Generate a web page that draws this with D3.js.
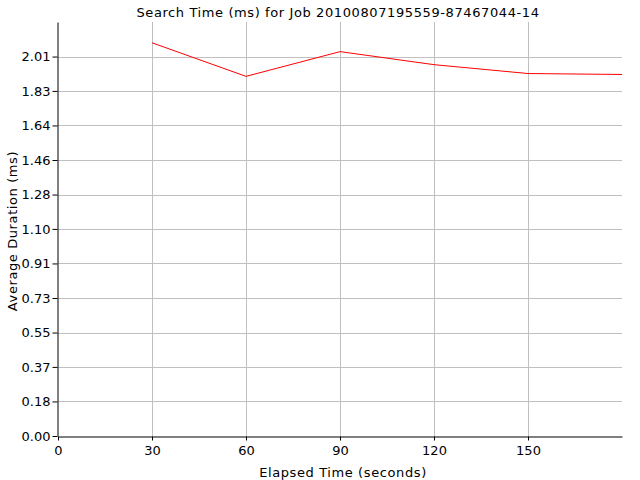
<!DOCTYPE html>
<html>
<head>
<meta charset="utf-8">
<script src="https://cdn.jsdelivr.net/npm/d3@7"></script>
<style>
	body { margin: 0; background: #fff; }
	text { font-family: "DejaVu Sans", sans-serif; font-size: 13px; fill: #000; }
	.title { letter-spacing: 0.6px; }
</style>
</head>
<body>
<script>
// elapsed seconds and average search time
var elapsed		= [30, 60, 90, 120, 150, 180],
	duration	= [2.083, 1.905, 2.036, 1.967, 1.920, 1.915],
	xTicks		= [0, 30, 60, 90, 120, 150],
	yTicks		= [0, 0.183, 0.366, 0.548, 0.731, 0.914, 1.097, 1.279, 1.462, 1.645, 1.828, 2.010],
	yLabels		= ["0.00", "0.18", "0.37", "0.55", "0.73", "0.91", "1.10", "1.28", "1.46", "1.64", "1.83", "2.01"];

var width		= 640,
	height		= 480,
	plotLeft	= 58,
	plotRight	= 622,
	plotTop		= 22,
	plotBottom	= 436;

var svg = d3.select("body")
	.append("svg")
	.attr("width", width)
	.attr("height", height);

var x = d3.scaleLinear().domain([0, 180]).range([plotLeft, plotRight]);
var y = d3.scaleLinear().domain([0, 2.193]).range([plotBottom, plotTop]);

// grid
svg.append("g")
	.selectAll("line")
	.data(yTicks.slice(1))
	.join("line")
	.attr("x1", plotLeft).attr("x2", plotRight)
	.attr("y1", function(d) { return Math.round(y(d)) + 0.5; })
	.attr("y2", function(d) { return Math.round(y(d)) + 0.5; })
	.style("stroke", "#c0c0c0");

svg.append("g")
	.selectAll("line")
	.data(xTicks.slice(1))
	.join("line")
	.attr("y1", plotTop).attr("y2", plotBottom)
	.attr("x1", function(d) { return Math.round(x(d)) + 0.5; })
	.attr("x2", function(d) { return Math.round(x(d)) + 0.5; })
	.style("stroke", "#c0c0c0");

// axes
var xAxis = svg.append("g")
	.attr("transform", "translate(0," + (plotBottom + 0.5) + ")")
	.call(d3.axisBottom(x).tickValues(xTicks).tickSize(4).tickPadding(5).tickSizeOuter(0));

var yAxis = svg.append("g")
	.attr("transform", "translate(" + (plotLeft - 0.5) + ",0)")
	.call(d3.axisLeft(y).tickValues(yTicks).tickSize(5).tickPadding(2).tickSizeOuter(0)
		.tickFormat(function(d, i) { return yLabels[i]; }));

[xAxis, yAxis].forEach(function(a) {
	a.selectAll("path, line").style("stroke", "#000");
	a.selectAll("text").style("font-family", "DejaVu Sans, sans-serif").style("font-size", "13px").style("fill", "#000");
});

// series
var line = d3.line()
	.x(function(d, i) { return x(elapsed[i]); })
	.y(function(d) { return y(d); });

svg.append("path")
	.datum(duration)
	.attr("d", line)
	.style("fill", "none")
	.style("stroke", "#ff0000")
	.style("stroke-width", 1);

// titles
svg.append("text")
	.attr("class", "title")
	.attr("x", 338)
	.attr("y", 17)
	.attr("text-anchor", "middle")
	.text("Search Time (ms) for Job 20100807195559-87467044-14");

svg.append("text")
	.attr("class", "title")
	.attr("x", 343)
	.attr("y", 477)
	.attr("text-anchor", "middle")
	.text("Elapsed Time (seconds)");

svg.append("text")
	.attr("class", "title")
	.attr("transform", "translate(17,231) rotate(-90)")
	.attr("text-anchor", "middle")
	.text("Average Duration (ms)");
</script>
</body>
</html>
